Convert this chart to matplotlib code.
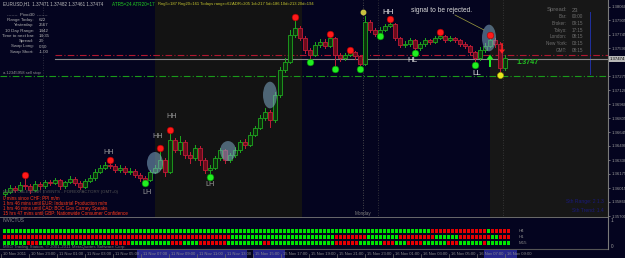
import matplotlib
matplotlib.use("Agg")
import matplotlib.pyplot as plt
from matplotlib.patches import Ellipse, Rectangle

# ---------------- data ----------------
opens = [1.35950,1.35971,1.36016,1.35994,1.36050,1.36039,1.35994,1.36061,1.36039,1.36084,
 1.36073,1.36106,1.36039,1.36084,1.36118,1.36073,1.36028,1.36095,1.36129,1.36197,
 1.36242,1.36275,1.36264,1.36219,1.36242,1.36197,1.36208,1.36163,1.36129,1.36106,
 1.36197,1.36242,1.36332,1.36197,1.36557,1.36444,1.36535,1.36388,1.36354,1.36467,
 1.36332,1.36219,1.36242,1.36354,1.36444,1.36332,1.36388,1.36444,1.36535,1.36501,
 1.36614,1.36692,1.36805,1.36873,1.36783,1.37064,1.37346,1.37436,1.37741,1.37819,
 1.37707,1.37571,1.37515,1.37628,1.37662,1.37617,1.37707,1.37515,1.37481,1.37515,
 1.37549,1.37504,1.37414,1.37887,1.37797,1.37752,1.37797,1.37842,1.37865,1.37707,
 1.37628,1.37639,1.37684,1.37594,1.37639,1.37684,1.37662,1.37707,1.37729,1.37684,
 1.37707,1.37684,1.37639,1.37617,1.37549,1.37481,1.37571,1.37617,1.37684,1.37639,
 1.37369]
closes = [1.35971,1.36016,1.35994,1.36050,1.36039,1.35994,1.36061,1.36039,1.36084,1.36073,
 1.36106,1.36039,1.36084,1.36118,1.36073,1.36028,1.36095,1.36129,1.36197,1.36242,
 1.36275,1.36264,1.36219,1.36242,1.36197,1.36208,1.36163,1.36129,1.36106,1.36197,
 1.36242,1.36332,1.36197,1.36557,1.36444,1.36535,1.36388,1.36354,1.36467,1.36332,
 1.36219,1.36242,1.36354,1.36444,1.36332,1.36388,1.36444,1.36535,1.36501,1.36614,
 1.36692,1.36805,1.36873,1.36783,1.37064,1.37346,1.37436,1.37741,1.37819,1.37707,
 1.37571,1.37515,1.37628,1.37662,1.37617,1.37707,1.37515,1.37481,1.37515,1.37549,
 1.37504,1.37414,1.37887,1.37797,1.37752,1.37797,1.37842,1.37865,1.37707,1.37628,
 1.37639,1.37684,1.37594,1.37639,1.37684,1.37662,1.37707,1.37729,1.37684,1.37707,
 1.37684,1.37639,1.37617,1.37549,1.37481,1.37571,1.37617,1.37684,1.37639,1.37369,
 1.37481]
highs = [1.36010,1.36050,1.36040,1.36080,1.36163,1.36060,1.36090,1.36085,1.36110,1.36105,
 1.36130,1.36120,1.36100,1.36150,1.36135,1.36090,1.36120,1.36160,1.36230,1.36280,
 1.36310,1.36332,1.36285,1.36270,1.36260,1.36240,1.36225,1.36180,1.36150,1.36220,
 1.36280,1.36467,1.36350,1.36670,1.36580,1.36600,1.36560,1.36420,1.36500,1.36490,
 1.36350,1.36280,1.36380,1.36470,1.36460,1.36410,1.36480,1.36560,1.36570,1.36650,
 1.36720,1.36840,1.36920,1.36900,1.37100,1.37380,1.37480,1.37800,1.37943,1.37840,
 1.37730,1.37590,1.37660,1.37700,1.37690,1.37752,1.37720,1.37540,1.37540,1.37571,
 1.37560,1.37520,1.37950,1.37910,1.37820,1.37830,1.37870,1.37921,1.37880,1.37720,
 1.37670,1.37710,1.37700,1.37660,1.37710,1.37700,1.37730,1.37774,1.37740,1.37730,
 1.37720,1.37700,1.37660,1.37630,1.37560,1.37600,1.37650,1.37741,1.37710,1.37660,
 1.37510]
lows = [1.35930,1.35955,1.35970,1.35980,1.36010,1.35960,1.35980,1.36010,1.36020,1.36050,
 1.36060,1.36010,1.36020,1.36070,1.36050,1.36000,1.36015,1.36080,1.36110,1.36180,
 1.36230,1.36240,1.36200,1.36195,1.36170,1.36175,1.36140,1.36100,1.36073,1.36095,
 1.36180,1.36230,1.36150,1.36180,1.36420,1.36400,1.36350,1.36300,1.36330,1.36280,
 1.36190,1.36140,1.36230,1.36330,1.36300,1.36310,1.36370,1.36420,1.36470,1.36490,
 1.36600,1.36680,1.36780,1.36700,1.36760,1.37040,1.37320,1.37420,1.37720,1.37680,
 1.37540,1.37436,1.37500,1.37600,1.37590,1.37600,1.37358,1.37450,1.37460,1.37500,
 1.37470,1.37358,1.37400,1.37770,1.37729,1.37729,1.37780,1.37830,1.37680,1.37600,
 1.37600,1.37620,1.37538,1.37570,1.37620,1.37640,1.37650,1.37690,1.37660,1.37670,
 1.37660,1.37620,1.37590,1.37520,1.37403,1.37460,1.37550,1.37600,1.37600,1.37290,
 1.37350]

swing_high_idx = [4, 21, 31, 33, 58, 65, 69, 77, 87, 97]
swing_low_idx = [28, 41, 61, 66, 71, 75, 82, 94]
yellow_low_idx = [99]

sell_stop_level = 1.37278
red_level = 1.37515
bid_level = 1.37470

price_ticks = [1.35700, 1.35860, 1.36015, 1.36175, 1.36330, 1.36490, 1.36645, 1.36805,
               1.36960, 1.37120, 1.37275, 1.37590, 1.37745, 1.37905, 1.38060]

h4_runs = [('G', 107), ('R', 14), ('G', 1), ('R', 5)]
h1_runs = [('R', 57), ('G', 26), ('R', 8), ('G', 8), ('R', 9), ('G', 6), ('R', 8), ('G', 2), ('R', 3)]
m15_runs = [('G', 6), ('R', 3), ('G', 18), ('R', 5), ('G', 10), ('R', 3), ('G', 4), ('R', 7),
            ('G', 9), ('R', 2), ('G', 16), ('R', 6), ('G', 6), ('R', 3), ('G', 3), ('R', 4),
            ('G', 6), ('R', 3), ('G', 6), ('R', 1), ('G', 6)]
row_names = ['H4', 'H1', 'M15']

time_labels = ["10 Nov 2011", "10 Nov 23:00", "11 Nov 01:00", "11 Nov 03:00", "11 Nov 05:00",
               "11 Nov 07:00", "11 Nov 09:00", "11 Nov 11:00", "11 Nov 13:00", "15 Nov 15:00",
               "15 Nov 17:00", "15 Nov 19:00", "15 Nov 21:00", "15 Nov 23:00", "16 Nov 01:00",
               "16 Nov 03:00", "16 Nov 05:00", "16 Nov 07:00", "16 Nov 09:00"]

# ---------------- figure ----------------
W, H = 625, 258
NAVY = '#04041f'
plt.rcParams['font.family'] = ['Liberation Sans', 'DejaVu Sans']
NARROW = ['Liberation Sans Narrow', 'Liberation Sans', 'DejaVu Sans']
fig = plt.figure(figsize=(W / 100, H / 100), dpi=100, facecolor=NAVY)


def ft(x, y, s, **kw):
    kw.setdefault('va', 'center')
    kw.setdefault('ha', 'left')
    return fig.text(x / W, 1 - y / H, s, **kw)


ax = fig.add_axes([0, 1 - 218 / H, 608 / W, 218 / H], facecolor=NAVY)
n = len(closes)
ax.set_xlim(-1, 120.6)
ax.set_ylim(1.35678, 1.38135)

# session shading
ax.axvspan(30, 59.4, color='#131313', zorder=0, lw=0)
ax.axvspan(97, 121, color='#171717', zorder=0, lw=0)

# vertical dotted lines
for xv, col in [(7.6, '#3a3a4a'), (71.6, '#5a5a5a'), (74.6, '#404040'), (99.6, '#404040')]:
    ax.axvline(xv, color=col, lw=0.6, ls=(0, (1, 2)), zorder=1)
ax.plot([117, 117], [1.37300, 1.38000], color='#2030a0', lw=0.7, zorder=1)

# horizontal levels
ax.plot([10, 121], [red_level, red_level], color='#b01830', lw=0.8, ls=(0, (6, 2, 1, 2)), zorder=2)
ax.plot([10, 121], [bid_level, bid_level], color='#8a8a8a', lw=0.8, zorder=2)
ax.axhline(sell_stop_level, color='#1a9a1a', lw=0.8, ls=(0, (6, 2, 1, 2)), zorder=2)

# candles
for i in range(n):
    o, c, h, l = opens[i], closes[i], highs[i], lows[i]
    up = c >= o
    edge = '#1fa81f' if up else '#c21c38'
    face = '#0c300c' if up else '#6a0c1c'
    ax.plot([i, i], [l, h], color=edge, lw=0.7, zorder=3)
    bot = min(o, c)
    hgt = max(abs(c - o), 0.00004)
    ax.add_patch(Rectangle((i - 0.32, bot), 0.64, hgt, facecolor=face, edgecolor=edge, lw=0.6, zorder=4))

# blue highlight ellipses
for (cx, cy, w, h) in [(30, 1.36298, 3.2, 0.00248), (44.6, 1.36433, 3.2, 0.00225),
                       (53, 1.37064, 2.8, 0.00300), (96.8, 1.37707, 2.8, 0.00300)]:
    ax.add_patch(Ellipse((cx, cy), w, h, facecolor='#7fa9c6', alpha=0.55, edgecolor='none', zorder=5))

# swing markers
ax.plot(swing_high_idx, [highs[i] for i in swing_high_idx], 'o', ms=4.8, mfc='#ff1a1a',
        mec='#aa0000', mew=0.4, zorder=6)
ax.plot(swing_low_idx, [lows[i] for i in swing_low_idx], 'o', ms=4.8, mfc='#22ee22',
        mec='#009900', mew=0.4, zorder=6)
ax.plot(yellow_low_idx, [lows[i] for i in yellow_low_idx], 'o', ms=4.4, mfc='#e8e820',
        mec='#a0a000', mew=0.4, zorder=6)
ax.plot([71.6], [1.37999], 'o', ms=3.2, mfc='#c8c040', mec='#c8c040', zorder=6)

# arrows
ax.annotate('', xy=(97, 1.37520), xytext=(97, 1.37380),
            arrowprops=dict(color='#22ee22', width=1.4, headwidth=5, headlength=3.5, lw=0), zorder=7)
ax.annotate('', xy=(99.4, 1.37530), xytext=(99.4, 1.37650),
            arrowprops=dict(color='#ff2020', width=1.0, headwidth=4.5, headlength=3, lw=0), zorder=7)

# right price axis
for side in ['top', 'left', 'bottom']:
    ax.spines[side].set_visible(False)
ax.spines['right'].set_color('#7a7a7a')
ax.spines['right'].set_linewidth(0.8)
ax.set_xticks([])
ax.yaxis.tick_right()
ax.set_yticks(price_ticks)
ax.set_yticklabels(['%.5f' % v for v in price_ticks], family=NARROW)
ax.tick_params(axis='y', colors='#9a9a9a', labelsize=3.1, length=1.5, width=0.5, pad=0.8)
ax.plot([-1, 120.6], [1.35678, 1.35678], color='#7a7a7a', lw=1.2, clip_on=False, zorder=8)

ft(609.5, 59, '1.37474', fontsize=3.1, color='#000000', family=NARROW,
   bbox=dict(boxstyle='square,pad=0.15', facecolor='#b8b8b8', edgecolor='none'))

# ---------------- indicator panel ----------------
bx = fig.add_axes([0, 1 - 249 / H, 608 / W, 31 / H], facecolor=NAVY)
bx.set_xlim(-1.125, 150.9)
bx.set_ylim(-1.0, 4.17)
for row, runs in enumerate([h4_runs, h1_runs, m15_runs]):
    yv = 2 - row
    xs, cs = [], []
    j = 0
    for col, cnt in runs:
        for _ in range(cnt):
            xs.append(j)
            cs.append('#00e600' if col == 'G' else '#e80000')
            j += 1
    bx.scatter(xs, [yv] * len(xs), marker='s', s=4.8, c=cs, linewidths=0, zorder=3)
    bx.text(128.6, yv, row_names[row], fontsize=3.2, color='#8a8a8a', va='center', ha='left')
bx.set_xticks([])
bx.set_yticks([])
for side in ['top', 'left', 'bottom']:
    bx.spines[side].set_visible(False)
bx.spines['right'].set_color('#7a7a7a')
bx.spines['right'].set_linewidth(0.8)
bx.plot([-1.125, 150.9], [-1.0, -1.0], color='#555555', lw=0.8, clip_on=False)

ft(611, 221, '1', fontsize=3.4, color='#9a9a9a')
ft(611, 247, '0', fontsize=3.4, color='#9a9a9a')
ft(3, 221, 'INVICTUS', fontsize=3.4, color='#8a8a8a')
ft(3, 247, 'MSG Trading Station, \u00a9 2001-2011 MetaQuotes Software Corp.', fontsize=3.2, color='#707070')

# ---------------- time axis ----------------
for rx, rw in [(137, 110), (253, 32), (484, 33)]:
    fig.patches.append(Rectangle((rx / W, 0), rw / W, 8 / H, transform=fig.transFigure,
                                 facecolor='#26268a', edgecolor='none', zorder=0))
for k, lab in enumerate(time_labels):
    ft(3 + 28 * k, 254, lab, fontsize=3.0, color='#8a8a8a', family=NARROW)
    fig.add_artist(plt.Line2D([(1 + 28 * k) / W] * 2, [0, 4 / H], color='#6a6a6a', lw=0.5))

# ---------------- texts ----------------
ft(3, 4, 'EURUSD,H1  1.37471 1.37482 1.37461 1.37474', fontsize=3.3, color='#c0c0c0')
ft(112, 4, 'ATR5=24 ATR20=17', fontsize=3.3, color='#22d022')
ft(158, 4, 'Rng5=187 Rng20=161 Todays range=62', fontsize=3.0, color='#c8c830', family=NARROW)
ft(232, 4, 'ADR=205 1d=217 5d=186 10d=213 20d=194', fontsize=3.0, color='#c8c830', family=NARROW)

ft(27, 15, '-------  Pivot30  -------', fontsize=3.2, color='#b0b0b0', ha='center')
info = [('Range Today:', '622'), ('Yesterday:', '2567'), ('10 Day Range:', '1442'),
        ('Time to next bar:', '14:35'), ('Spread:', '23'), ('Swap Long:', '0.50'),
        ('Swap Short:', '-1.00')]
for k, (lab, val) in enumerate(info):
    ft(34, 20 + 5.3 * k, lab, fontsize=3.2, color='#b0b0b0', ha='right')
    ft(39, 20 + 5.3 * k, val, fontsize=3.2, color='#b0b0b0')
ft(3, 73, 'a.12345958 sell stop', fontsize=3.0, color='#909090')

# top-right session box
ft(567, 10, 'Spread:', fontsize=4.2, color='#6e6e6e', ha='right')
ft(572, 10, '23', fontsize=4.2, color='#6e6e6e')
sess = [('Bar:', '00:00'), ('Broker:', '09:15'), ('Tokyo:', '17:15'), ('London:', '08:15'),
        ('New York:', '03:15'), ('GMT:', '08:15')]
for k, (lab, val) in enumerate(sess):
    ft(567, 17 + 6.6 * k, lab, fontsize=3.3, color='#6e6e6e', ha='right')
    ft(572, 17 + 6.6 * k, val, fontsize=3.3, color='#6e6e6e')
ft(604, 202, 'Sth Range: 2 1.3', fontsize=3.6, color='#1a1a7a', ha='right')
ft(604, 210, 'Sth Trend: 1.4', fontsize=3.6, color='#1a1a7a', ha='right')

# swing labels
for (x, y, s, c, fs) in [(109, 152, 'HH', '#9a9a9a', 5.2), (158, 136, 'HH', '#9a9a9a', 5.2),
                         (172, 117, 'HH', '#9a9a9a', 5.2), (147, 193, 'LH', '#9a9a9a', 5.2),
                         (210, 185, 'LH', '#9a9a9a', 5.2), (388, 12, 'HH', '#e0e0e0', 5.8),
                         (412, 61, 'HL', '#e0e0e0', 5.8), (477, 73, 'LL', '#e0e0e0', 5.8)]:
    ft(x, y, s, fontsize=fs, color=c, ha='center')

ft(442, 10, 'signal to be rejected.', fontsize=4.8, color='#d8d8d8', ha='center')
fig.add_artist(plt.Line2D([455 / W, 484 / W], [1 - 15 / H, 1 - 30 / H], color='#a0a040', lw=0.5))
ft(516, 62, '1.3747', fontsize=5.2, color='#22c022', fontweight='bold')
ft(363, 213, 'Monday', fontsize=3.3, color='#808080', ha='center')

# news texts
ft(3, 192, 'NEWS CALENDAR EVENTS - FOREXFACTORY (GMT+0)', fontsize=3.2, color='#555555')
news = ['0 mins since CHF: PPI m/m',
        '1 hrs 46 mins until EUR: Industrial Production m/m',
        '1 hrs 46 mins until CAD: BOC Gov Carney Speaks',
        '15 hrs 47 mins until GBP: Nationwide Consumer Confidence']
for k, s in enumerate(news):
    ft(3, 198 + 5.2 * k, s, fontsize=3.3, color='#ff3a1a')

fig.savefig('out.png', dpi=100, facecolor=NAVY)
